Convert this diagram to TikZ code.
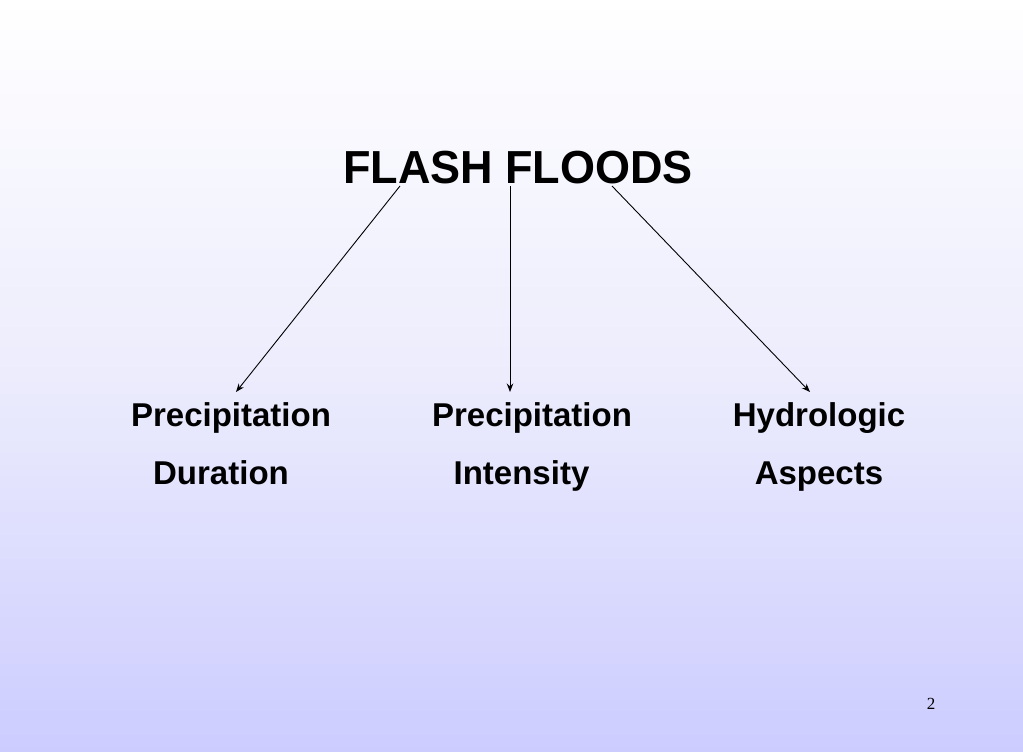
\documentclass[tikz,border=0pt]{standalone}
\usepackage{fontspec}
\setmainfont{Liberation Sans}
\newfontfamily\numfont{Liberation Serif}
\usetikzlibrary{arrows.meta}
\definecolor{bglav}{RGB}{204,204,255}
\tikzset{
  title/.style={font=\fontsize{45}{54}\selectfont\bfseries, anchor=base, inner sep=0pt, yscale=1.03},
  item/.style={font=\fontsize{33}{40}\selectfont\bfseries, anchor=base, inner sep=0pt},
  conn/.style={line width=0.9pt, -{Stealth[length=8.5pt,width=6.5pt]}}
}
\begin{document}
\begin{tikzpicture}[x=1pt,y=-1pt]
\shade[top color=white, bottom color=bglav, middle color={rgb,255:red,236;green,236;blue,253}] (0,0) rectangle (1023,752);
\useasboundingbox (0,0) rectangle (1023,752);
\node[title] (ff) at (518,183) {FLASH FLOODS};
\node[item] (pd1) at (231,426) {Precipitation};
\node[item] (pd2) at (221,484) {Duration};
\node[item] (pi1) at (532,426) {Precipitation};
\node[item] (pi2) at (521.5,484) {Intensity};
\node[item] (ha1) at (819,426) {Hydrologic};
\node[item] (ha2) at (819,484) {Aspects};
\node[anchor=base, inner sep=0pt, font=\numfont\fontsize{17}{20}\selectfont] (pg) at (931,709) {2};
\coordinate (s1) at (400,186);
\coordinate (s2) at (510,186);
\coordinate (s3) at (612,186);
\coordinate (e1) at (236,392);
\coordinate (e2) at (510,392);
\coordinate (e3) at (810,392);
\draw[conn] (s1) -- (e1);
\draw[conn] (s2) -- (e2);
\draw[conn] (s3) -- (e3);
\end{tikzpicture}
\end{document}
